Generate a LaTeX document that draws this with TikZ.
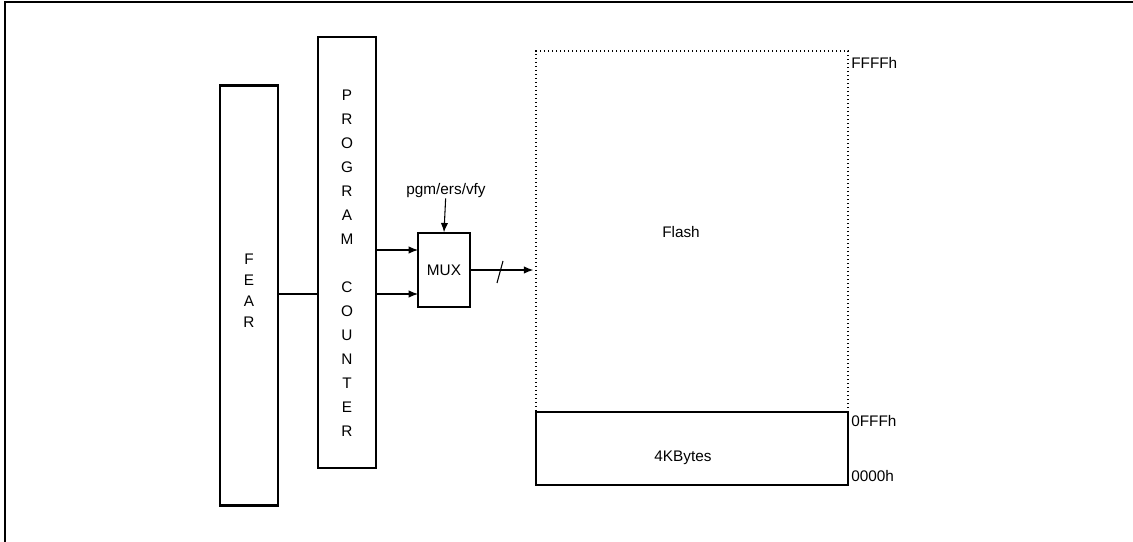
\documentclass[tikz,border=0pt]{standalone}
\usepackage{fontspec}
\setmainfont{Liberation Sans}
\usetikzlibrary{arrows.meta,positioning}

\begin{document}
\begin{tikzpicture}[
  x=0.75pt,y=-0.75pt,
  font=\fontsize{11.5}{14}\selectfont,
  blk/.style={draw,line width=1pt,inner sep=0pt},
  vtext/.style={align=center,inner sep=0pt},
  lbl/.style={inner sep=0pt},
  arr/.style={-{Latex[length=7pt,width=5.5pt]},line width=0.8pt},
  wire/.style={line width=0.8pt}
]
\useasboundingbox (0,0) rectangle (1133,542);
\draw[line width=1.1pt] (5,542) -- (5,2) -- (1133,2);
% left blocks
\node[blk,minimum width=43.5pt,minimum height=314.25pt] (fear) at (249,295.5) {};
\draw[line width=2.4pt] (fear.north west) -- (fear.north east);
\draw[line width=2.4pt] (fear.south west) -- (fear.south east);
\node[vtext,font=\fontsize{11.5}{15.75}\selectfont] (feartxt) at (249,290.5) {F\\E\\A\\R};
\node[blk,minimum width=43.5pt,minimum height=323.25pt] (pc) at (347,252.5) {};
\node[vtext,font=\fontsize{11.5}{18}\selectfont] (pctxt) at (347,263) {P\\R\\O\\G\\R\\A\\M\\[18pt]C\\O\\U\\N\\T\\E\\R};
% mux
\node[blk,minimum width=39pt,minimum height=55.5pt] (mux) at (444,270) {MUX};
\node[lbl] (ctrl) at (446,191) {pgm/ers/vfy};
\coordinate (in1) at (418,250);
\coordinate (in2) at (418,294);
% memory
\node[blk,minimum width=234pt,minimum height=54.75pt] (kbytes) at (692,448.5) {};
\node[blk,line width=1.1pt,dash pattern=on 1.1pt off 1.9pt,minimum width=234pt,minimum height=270.75pt] (flash) at (692,231.5) {};
\node[lbl] (flashtxt) at (681,232) {Flash};
\node[lbl] (kbtxt) at (683,458) {4KBytes};
\node[lbl,anchor=west] (top) at (851,62.5) {FFFFh};
\node[lbl,anchor=west] (mid) at (851,421) {0FFFh};
\node[lbl,anchor=west] (bot) at (851,476.5) {0000h};
% connections
\draw[wire] (fear.east |- in2) -- (pc.west |- in2);
\draw[arr] (pc.east |- in1) -- (in1);
\draw[arr] (pc.east |- in2) -- (in2);
\draw[arr] (ctrl) -- (mux.north);
\draw[arr] (mux.east) -- ([xshift=-1.5pt]mux.east -| flash.west);
\coordinate (bus) at (500,271);
\draw[wire] (bus) +(-3,12) -- +(3,-10);
\end{tikzpicture}
\end{document}
